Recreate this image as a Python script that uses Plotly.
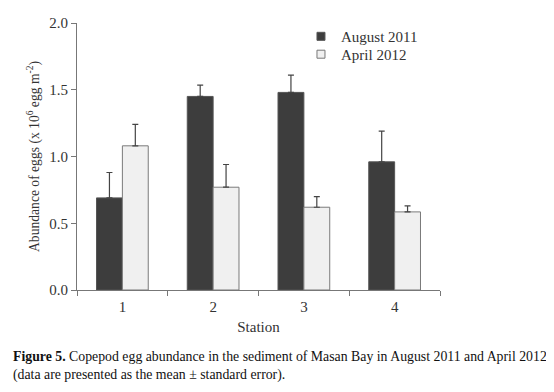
import plotly.graph_objects as go

stations = ["1", "2", "3", "4"]
aug2011 = [0.69, 1.45, 1.48, 0.96]
aug2011_err = [0.19, 0.085, 0.13, 0.23]
apr2012 = [1.08, 0.77, 0.62, 0.585]
apr2012_err = [0.16, 0.17, 0.08, 0.045]
yticks = [0.0, 0.5, 1.0, 1.5, 2.0]

font_family = "Liberation Serif"
dark = "#3d3d3d"
light = "#f0f0f0"

fig = go.Figure()
fig.add_trace(go.Bar(
    x=stations, y=aug2011, name="August 2011", showlegend=False,
    marker=dict(color=dark, line=dict(color="#555555", width=1)),
    error_y=dict(type="data", array=aug2011_err, arrayminus=[0]*4, symmetric=False,
                 color="#444444", thickness=1.2, width=3),
))
fig.add_trace(go.Bar(
    x=stations, y=apr2012, name="April 2012", showlegend=False,
    marker=dict(color=light, line=dict(color="#7a7a7a", width=1)),
    error_y=dict(type="data", array=apr2012_err, arrayminus=[0]*4, symmetric=False,
                 color="#444444", thickness=1.2, width=3),
))
# legend entries with small square symbols
fig.add_trace(go.Scatter(
    x=[None], y=[None], mode="markers", name="August 2011", legend="legend",
    marker=dict(symbol="square", size=8, color=dark, line=dict(color="#555555", width=1)),
))
fig.add_trace(go.Scatter(
    x=[None], y=[None], mode="markers", name="April 2012", legend="legend2",
    marker=dict(symbol="square", size=8, color=light, line=dict(color="#777777", width=1)),
))

legend_common = dict(xanchor="left", yanchor="top",
                     font=dict(family=font_family, size=15, color="#333333"),
                     bgcolor="rgba(0,0,0,0)", itemwidth=30)

# the page body has an 8px margin, so margins are reduced by 8px on left/top
fig.update_layout(
    width=554, height=392,
    margin=dict(l=69, r=122, t=15, b=110),
    paper_bgcolor="white", plot_bgcolor="white",
    barmode="group", bargap=0.43, bargroupgap=0,
    font=dict(family=font_family, color="#333333", size=14),
    showlegend=True,
    legend=dict(x=0.617, y=1.011, **legend_common),
    legend2=dict(x=0.617, y=0.944, **legend_common),
    xaxis=dict(
        type="category", range=[-0.5, 3.5], automargin=False,
        showline=True, linecolor="#777777", linewidth=1,
        ticks="outside", tickson="boundaries", ticklen=5, tickcolor="#777777",
        tickfont=dict(size=15), ticklabelstandoff=3,
        title=dict(text="Station", font=dict(size=15), standoff=7),
        showgrid=False, zeroline=False,
    ),
    yaxis=dict(
        range=[0, 2.0], tickvals=yticks, ticktext=[f"{v:.1f}" for v in yticks],
        automargin=False,
        showline=True, linecolor="#777777", linewidth=1,
        ticks="outside", ticklen=5, tickcolor="#777777",
        tickfont=dict(size=15),
        title=dict(text="Abundance of eggs (x 10<sup>6</sup> egg m<sup>-2</sup>)",
                   font=dict(size=13.6), standoff=6),
        showgrid=False, zeroline=False,
    ),
)

fig.add_annotation(
    xref="paper", yref="paper", x=-0.181, y=-0.215, xanchor="left", yanchor="top",
    text="<b>Figure 5.</b> Copepod egg abundance in the sediment of Masan Bay in August 2011 and April 2012<br>(data are presented as the mean \u00b1 standard error).",
    showarrow=False, align="left",
    font=dict(family=font_family, size=13.8, color="#111111"),
)

fig.write_html("out.html")
